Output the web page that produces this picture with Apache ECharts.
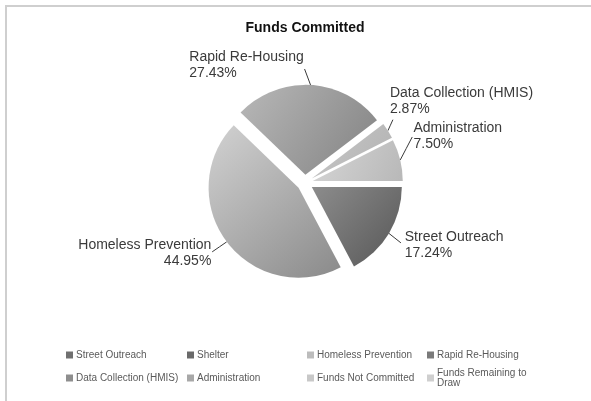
<!DOCTYPE html>
<html>
<head>
<meta charset="utf-8">
<script src="https://cdn.jsdelivr.net/npm/echarts@6/dist/echarts.min.js"></script>
<style>
html,body{margin:0;padding:0;background:#fff;}
#chart{width:591px;height:401px;}
</style>
</head>
<body>
<div id="chart"></div>
<script>
const titleText = 'Funds Committed';
const categories = ['Street Outreach', 'Shelter', 'Homeless Prevention', 'Rapid Re-Housing',
  'Data Collection (HMIS)', 'Administration', 'Funds Not Committed', 'Funds Remaining to Draw'];
const percentValues = [17.24, 0, 44.95, 27.43, 2.87, 7.50, 0, 0];

// ---- styling / layout (kept separate from data) ----
const FONT = 'Liberation Sans, Arial, sans-serif';
const sliceGradients = [
  ['#8c8c8c', '#575757'],
  ['#6e6e6e', '#6e6e6e'],
  ['#d2d2d2', '#8a8a8a'],
  ['#b8b8b8', '#828282'],
  ['#c8c8c8', '#b2b2b2'],
  ['#d6d6d6', '#b8b8b8'],
  ['#cccccc', '#cccccc'],
  ['#d0d0d0', '#d0d0d0']
];
const legendColors = ['#707070', '#6a6a6a', '#bcbcbc', '#7a7a7a', '#8e8e8e', '#a8a8a8', '#c8c8c8', '#cfcfcf'];
// label placement: line length / distance along library layout, alignment, and leader end offset from slice edge
const labelTweaks = {
  0: {len: 22, dist: -3, align: 'left', va: 'middle', rich: true, ex: 12, ey: 9.5},
  2: {len: 18, dist: 1, align: 'right', va: 'middle', rich: false, ex: -14.5, ey: 10},
  3: {len: 20, dist: -8, align: 'right', va: 'middle', rich: true, ex: -6, ey: -16},
  4: {len: 26, dist: -20, align: 'left', va: 'bottom', rich: true, ex: 5, ey: -11},
  5: {len: 101, dist: -85, align: 'left', va: 'middle', rich: true, ex: 12, ey: -23}
};
const legendColLeft = [66, 187, 307, 427];
const legendRowTop = [350, 373];

const chart = echarts.init(document.getElementById('chart'), null, {renderer: 'canvas'});

const pieData = categories.map((name, i) => {
  const v = percentValues[i];
  const t = labelTweaks[i];
  const item = {
    name: name,
    value: v,
    itemStyle: {
      color: new echarts.graphic.LinearGradient(0, 0, 1, 1, [
        {offset: 0, color: sliceGradients[i][0]},
        {offset: 1, color: sliceGradients[i][1]}
      ])
    }
  };
  if (v > 0) {
    item.selected = true;
    if (t) {
      item.label = {
        distanceToLabelLine: t.dist,
        formatter: t.rich
          ? p => '{l|' + p.name + '}\n{l|' + p.value.toFixed(2) + '%}'
          : p => p.name + '\n' + p.value.toFixed(2) + '%'
      };
      item.labelLine = {length: t.len, length2: 0};
    }
  } else {
    item.label = {show: false};
    item.labelLine = {show: false};
  }
  return item;
});

const legends = categories.map((name, i) => {
  const col = i % 4, row = Math.floor(i / 4);
  const twoLine = name === 'Funds Remaining to Draw';
  return {
    orient: 'vertical',
    left: legendColLeft[col],
    top: legendRowTop[row] - (twoLine ? 5 : 0),
    itemWidth: 7,
    itemHeight: 7,
    padding: 0,
    icon: 'rect',
    selectedMode: false,
    textStyle: {fontSize: 10, color: '#5a5a5a', fontFamily: FONT, lineHeight: 10, padding: [0, 0, 0, -2]},
    formatter: n => n === 'Funds Remaining to Draw' ? 'Funds Remaining to\nDraw' : n,
    data: [{name: name, itemStyle: {color: legendColors[i]}}]
  };
});

const option = {
  animation: false,
  backgroundColor: '#fff',
  title: {
    text: titleText,
    left: 300,
    top: 16,
    textAlign: 'center',
    textStyle: {fontSize: 14, fontWeight: 'bold', color: '#111', fontFamily: FONT}
  },
  legend: legends,
  graphic: [{
    type: 'rect',
    silent: true,
    shape: {x: 6, y: 6, width: 620, height: 420},
    style: {fill: null, stroke: '#cfcfcf', lineWidth: 2}
  }],
  series: [{
    type: 'pie',
    center: ['51.6%', '45.6%'],
    radius: 90,
    startAngle: 0,
    clockwise: true,
    selectedMode: 'multiple',
    selectedOffset: 8,
    avoidLabelOverlap: false,
    emphasis: {disabled: true},
    label: {
      position: 'outside',
      fontSize: 14,
      lineHeight: 16,
      color: '#3a3a3a',
      fontFamily: FONT,
      rich: {
        l: {align: 'left', fontSize: 14, lineHeight: 16, color: '#3a3a3a', fontFamily: FONT}
      }
    },
    labelLine: {
      show: true,
      length: 12,
      length2: 0,
      lineStyle: {color: '#3a3a3a', width: 1}
    },
    labelLayout: function (params) {
      const t = labelTweaks[params.dataIndex];
      const pts = params.labelLinePoints;
      if (!t || !pts) return {};
      const p0 = pts[0];
      const end = [p0[0] + t.ex, p0[1] + t.ey];
      const mid = [(p0[0] + end[0]) / 2, (p0[1] + end[1]) / 2];
      return {
        align: t.align,
        verticalAlign: t.va,
        labelLinePoints: [p0, mid, end]
      };
    },
    data: pieData
  }]
};
chart.setOption(option);
</script>
</body>
</html>
